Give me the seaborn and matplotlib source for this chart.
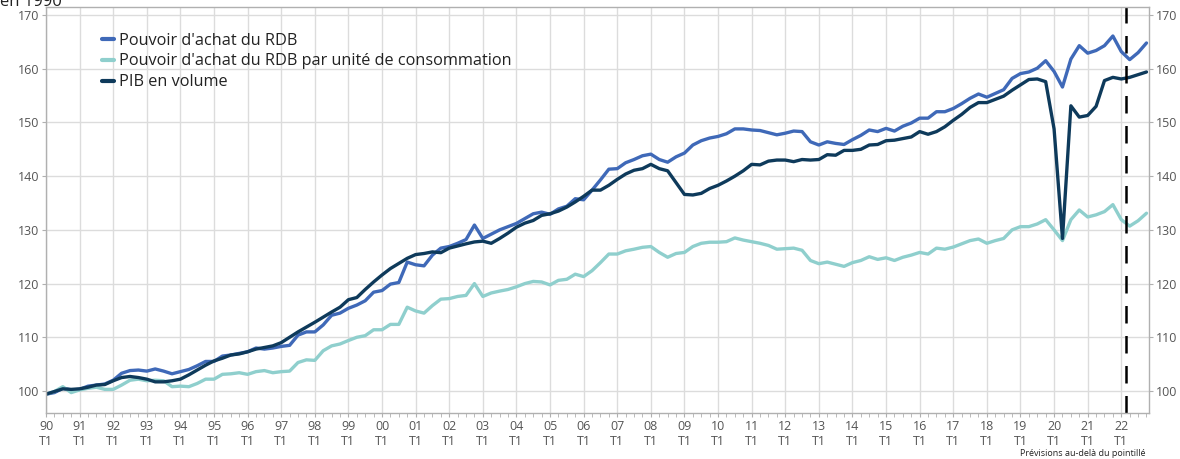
import numpy as np
import pandas as pd
import matplotlib
matplotlib.use("Agg")
import matplotlib.pyplot as plt
from matplotlib.ticker import MultipleLocator, FixedLocator
import seaborn as sns

# ---- Data (quarterly, 1990 T1 -> 2022 T4, base 100 en 1990) ----
years = [f"{y % 100:02d}" for y in range(1990, 2023)]

rdb = [99.4, 99.7, 100.5, 100.2, 100.3, 100.9, 101.1, 101.3, 102.0, 103.3,
       103.8, 103.9, 103.7, 104.1, 103.7, 103.2, 103.6, 104.0, 104.7, 105.5,
       105.5, 106.5, 106.7, 107.0, 107.3, 108.0, 107.8, 108.0, 108.3, 108.5,
       110.4, 111.0, 111.0, 112.3, 114.1, 114.5, 115.4, 116.0, 116.8, 118.4,
       118.7, 119.9, 120.2, 124.0, 123.5, 123.3, 125.3, 126.6, 126.9, 127.5,
       128.2, 130.9, 128.4, 129.2, 130.0, 130.6, 131.2, 132.1, 133.0, 133.3,
       132.9, 133.9, 134.4, 135.8, 135.6, 137.4, 139.3, 141.3, 141.4, 142.5,
       143.1, 143.8, 144.1, 143.1, 142.6, 143.6, 144.3, 145.8, 146.6, 147.1,
       147.4, 147.9, 148.8, 148.8, 148.6, 148.5, 148.1, 147.7, 148.0, 148.4,
       148.3, 146.4, 145.8, 146.4, 146.1, 145.9, 146.8, 147.6, 148.6, 148.3,
       148.9, 148.4, 149.3, 149.9, 150.8, 150.8, 152.0, 152.0, 152.6, 153.5,
       154.5, 155.3, 154.7, 155.4, 156.1, 158.2, 159.1, 159.4, 160.1, 161.5,
       159.5, 156.6, 161.8, 164.3, 162.9, 163.4, 164.3, 166.1, 163.2, 161.7,
       163.0, 164.8]

rdb_uc = [99.4, 99.9, 100.8, 99.7, 100.2, 100.5, 100.7, 100.3, 100.3, 101.1,
          102.0, 102.2, 101.9, 102.0, 101.9, 100.8, 100.9, 100.8, 101.4, 102.2,
          102.2, 103.1, 103.2, 103.4, 103.1, 103.6, 103.8, 103.4, 103.6, 103.7,
          105.3, 105.8, 105.7, 107.5, 108.4, 108.75, 109.4, 110.0, 110.3, 111.4,
          111.4, 112.4, 112.4, 115.6, 114.9, 114.5, 115.9, 117.1, 117.2, 117.6,
          117.8, 120.0, 117.6, 118.25, 118.6, 118.9, 119.4, 120.0, 120.4, 120.3,
          119.75, 120.6, 120.8, 121.75, 121.3, 122.4, 123.9, 125.5, 125.5, 126.1,
          126.4, 126.75, 126.9, 125.8, 124.9, 125.6, 125.8, 126.9, 127.5, 127.7,
          127.7, 127.8, 128.5, 128.1, 127.8, 127.5, 127.1, 126.4, 126.5, 126.6,
          126.2, 124.3, 123.7, 124.0, 123.6, 123.2, 123.9, 124.3, 125.0, 124.5,
          124.8, 124.3, 124.9, 125.3, 125.8, 125.5, 126.6, 126.4, 126.8, 127.4,
          128.0, 128.3, 127.5, 128.0, 128.4, 130.0, 130.6, 130.6, 131.1, 131.9,
          130.0, 128.0, 131.9, 133.7, 132.4, 132.8, 133.4, 134.7, 131.9, 130.7,
          131.7, 133.1]

pib = [99.4, 99.9, 100.4, 100.3, 100.4, 100.7, 101.1, 101.2, 101.9, 102.5,
       102.7, 102.5, 102.2, 101.7, 101.7, 101.9, 102.2, 103.0, 103.9, 104.8,
       105.6, 106.1, 106.7, 106.9, 107.3, 107.8, 108.1, 108.4, 109.0, 110.0,
       111.0, 111.9, 112.8, 113.75, 114.7, 115.6, 117.0, 117.4, 118.9, 120.3,
       121.6, 122.8, 123.75, 124.7, 125.4, 125.6, 125.9, 125.75, 126.6, 127.0,
       127.4, 127.75, 127.9, 127.5, 128.4, 129.4, 130.5, 131.25, 131.75, 132.7,
       133.0, 133.5, 134.25, 135.2, 136.25, 137.4, 137.4, 138.3, 139.4, 140.4,
       141.1, 141.4, 142.2, 141.4, 141.0, 138.8, 136.6, 136.5, 136.8, 137.7,
       138.3, 139.1, 140.0, 141.0, 142.2, 142.1, 142.8, 143.0, 143.0, 142.7,
       143.1, 143.0, 143.1, 144.0, 143.9, 144.8, 144.8, 145.0, 145.8, 145.9,
       146.6, 146.7, 147.0, 147.3, 148.3, 147.8, 148.3, 149.2, 150.4, 151.5,
       152.8, 153.7, 153.7, 154.3, 154.9, 156.0, 157.0, 158.0, 158.1, 157.6,
       148.8, 128.4, 153.1, 151.0, 151.3, 153.0, 157.8, 158.4, 158.1, 158.4,
       158.9, 159.4]

series_names = ["Pouvoir d'achat du RDB",
                "Pouvoir d'achat du RDB par unité de consommation",
                "PIB en volume"]
colors = ["#3f69b8", "#8fcfcd", "#0e3a5b"]
forecast_start = 128.6  # position (in quarters) of the dashed line

n = len(pib)
quarters = np.arange(n)
df = pd.concat([
    pd.DataFrame({"t": quarters, "v": rdb, "serie": series_names[0]}),
    pd.DataFrame({"t": quarters, "v": rdb_uc, "serie": series_names[1]}),
    pd.DataFrame({"t": quarters, "v": pib, "serie": series_names[2]}),
])

sns.set_style("white")
plt.rcParams["font.family"] = ["Open Sans", "DejaVu Sans"]

fig = plt.figure(figsize=(11.8, 4.59), dpi=100)
ax = fig.add_axes([46 / 1180, 1 - 413 / 459, (1149 - 46) / 1180, (413 - 7) / 459])

sns.lineplot(data=df, x="t", y="v", hue="serie", hue_order=series_names,
             palette=dict(zip(series_names, colors)), linewidth=2.4, ax=ax,
             legend=True)

ax.axvline(forecast_start, color="black", lw=1.8, dashes=(7, 5))

ax.set_xlim(0, 131.3)
ax.set_ylim(95.9, 171.5)
ax.set_xlabel("")
ax.set_ylabel("")

# grid
ax.xaxis.set_major_locator(FixedLocator(np.arange(0, n, 4)))
ax.xaxis.set_minor_locator(MultipleLocator(1))
ax.set_xticklabels([f"{y}\nT1" for y in years])
ax.yaxis.set_major_locator(FixedLocator(np.arange(100, 171, 10)))
ax.grid(True, which="major", color="#dcdcdc", lw=1)
ax.set_axisbelow(True)

for s in ax.spines.values():
    s.set_color("#b0b0b0")
    s.set_linewidth(1)

ax.tick_params(axis="x", which="both", direction="out", length=3, color="#b0b0b0",
               labelsize=9, labelcolor="#555555", pad=2, bottom=True)
ax.tick_params(axis="y", which="major", direction="out", length=3, color="#b0b0b0",
               labelsize=9, labelcolor="#555555", pad=2, left=True, right=True,
               labelright=True)

leg = ax.legend(loc="upper left", bbox_to_anchor=(0.045, 0.953), frameon=False,
                handlelength=0.7, handletextpad=0.35, labelspacing=0.3,
                fontsize=11.7, borderaxespad=0)
for t in leg.get_texts():
    t.set_color("#222222")
for h in leg.get_lines():
    h.set_linewidth(3)

fig.text(0.0, 1 - 6 / 459, "en 1990", fontsize=12, color="#222222", va="baseline", ha="left")
fig.text(1145 / 1180, 1 - 454 / 459, "Prévisions au-delà du pointillé", fontsize=6.5,
         color="#222222", ha="right", va="center")

fig.savefig("out.png", dpi=100)
